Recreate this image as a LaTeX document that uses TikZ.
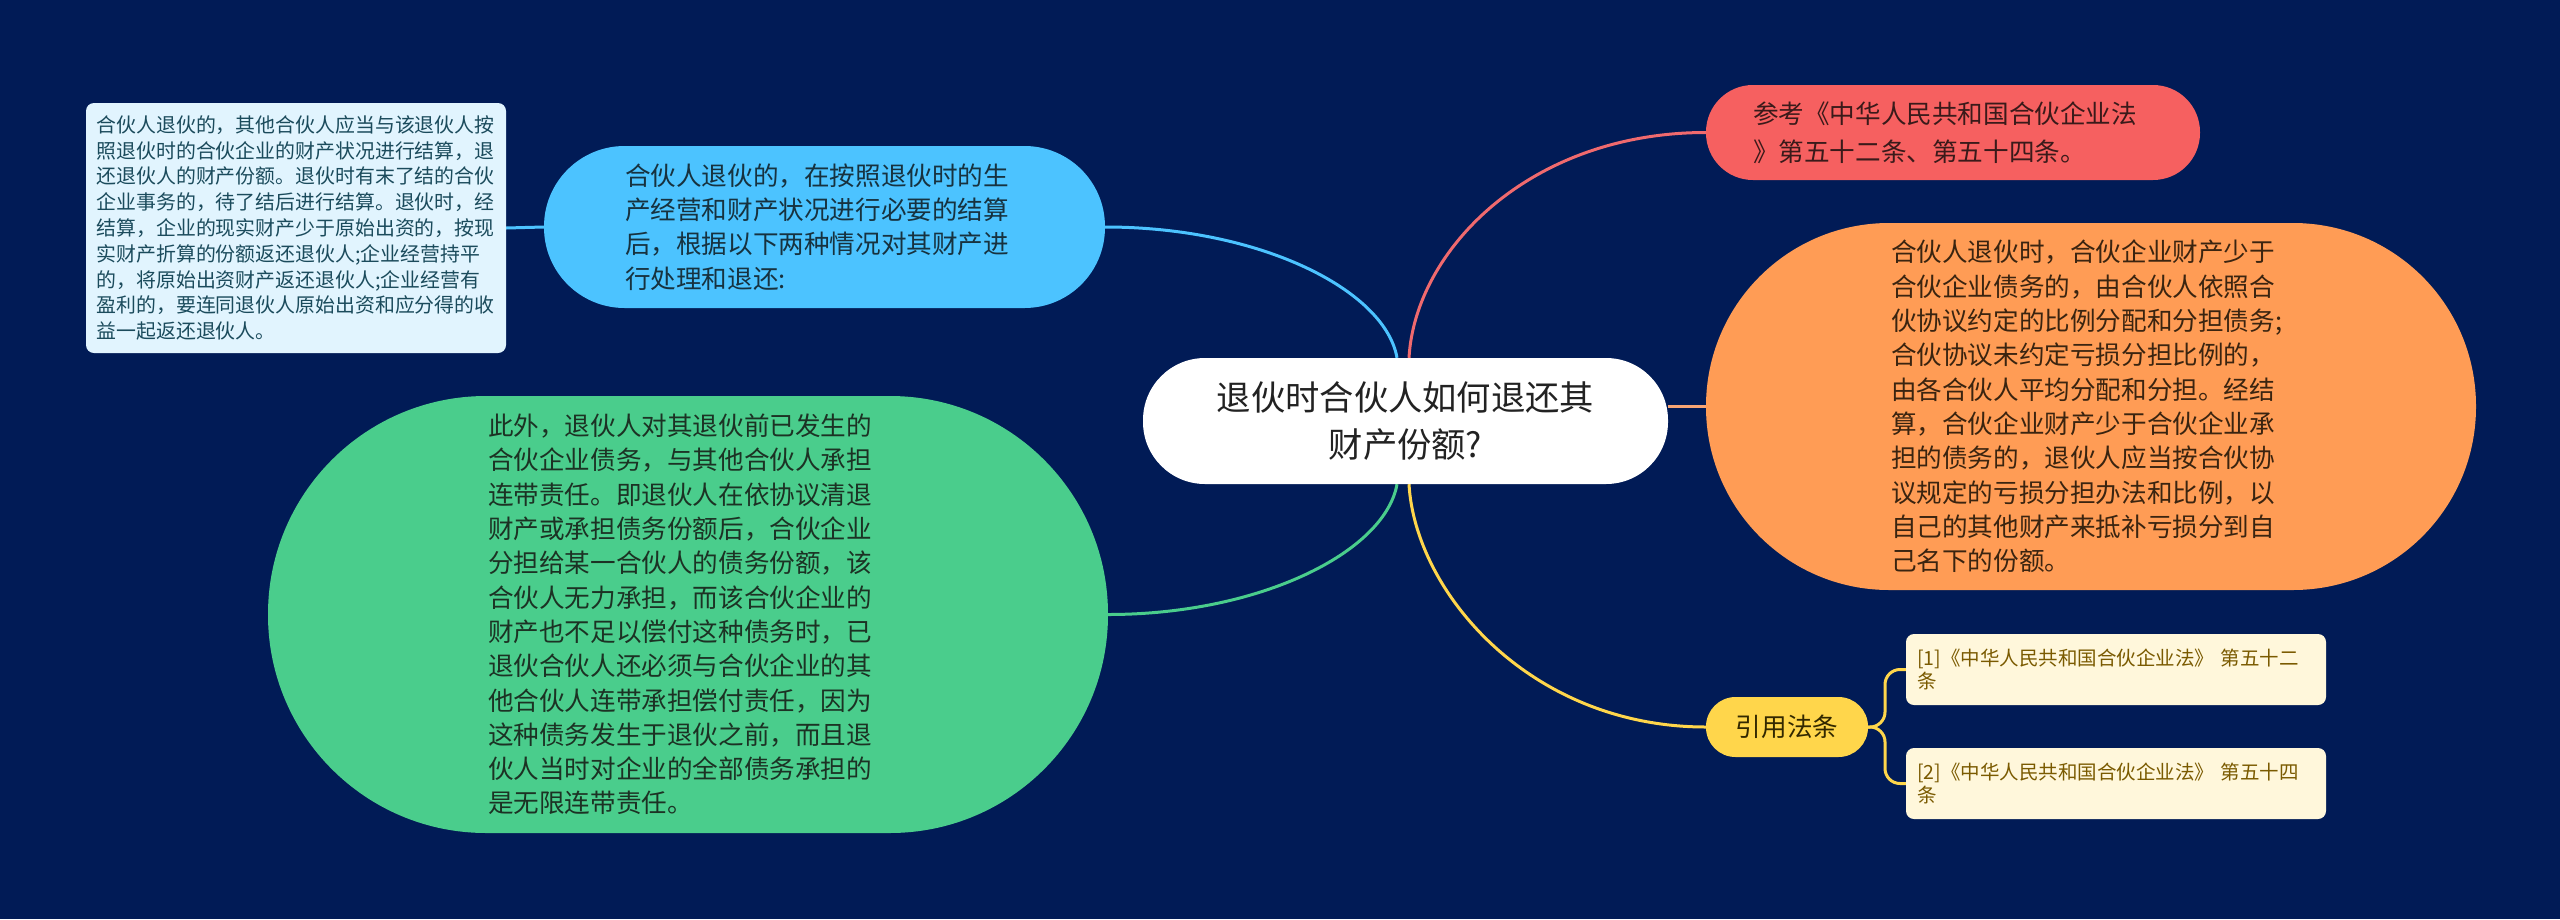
\documentclass[tikz,border=0pt]{standalone}
\usepackage{fontspec}
\setmainfont{Noto Sans CJK SC}
\pgfdeclarelayer{bgl}
\pgfdeclarelayer{edgel}
\pgfsetlayers{bgl,edgel,main}
\definecolor{navy}{RGB}{1,27,86}
\definecolor{bluefill}{RGB}{76,195,255}
\definecolor{leaffill}{RGB}{225,244,254}
\definecolor{leaftext}{RGB}{27,75,92}
\definecolor{greenfill}{RGB}{74,205,140}
\definecolor{redfill}{RGB}{246,96,96}
\definecolor{redline}{RGB}{240,106,110}
\definecolor{orangefill}{RGB}{255,156,85}
\definecolor{orangeline}{RGB}{247,165,116}
\definecolor{yellowfill}{RGB}{255,214,75}
\definecolor{citefill}{RGB}{255,247,219}
\definecolor{citetext}{RGB}{122,90,0}
\definecolor{darktext}{RGB}{34,34,34}
\definecolor{bluetext}{RGB}{23,50,63}
\definecolor{greentext}{RGB}{28,50,36}
\definecolor{redtext}{RGB}{58,26,26}
\definecolor{orangetext}{RGB}{58,36,16}
\definecolor{yellowtext}{RGB}{50,40,0}
\begin{document}
\begin{tikzpicture}[x=1pt,y=-1pt,
  base/.style={rectangle, inner sep=0pt, align=left},
  bodyfont/.style={font=\fontsize{25.6}{34.3}\selectfont},
  conn/.style={line width=3pt},
  mainbox/.style={base, align=center, fill=white, text=darktext,
    minimum width=525, minimum height=126, rounded corners=62,
    font=\fontsize{34.3}{47}\selectfont},
  bluebox/.style={base, bodyfont, fill=bluefill, text=bluetext, text width=399,
    minimum width=561, minimum height=162, rounded corners=80.5},
  leafbox/.style={base, fill=leaffill, text=leaftext, text width=399,
    minimum width=420, minimum height=250, rounded corners=8,
    font=\fontsize{19.9}{25.8}\selectfont},
  greenbox/.style={base, bodyfont, fill=greenfill, text=greentext, text width=400,
    minimum width=840, minimum height=437, rounded corners=218},
  redbox/.style={base, fill=redfill, text=redtext, text width=400,
    minimum width=494, minimum height=95, rounded corners=47,
    font=\fontsize{25.6}{38}\selectfont},
  orangebox/.style={base, bodyfont, fill=orangefill, text=orangetext, text width=400,
    minimum width=770, minimum height=367, rounded corners=183},
  yellowbox/.style={base, bodyfont, fill=yellowfill, text=yellowtext,
    minimum width=162, minimum height=60, rounded corners=29.5},
  citebox/.style={base, fill=citefill, text=citetext, text width=398, inner xsep=11,
    minimum width=420, minimum height=71, rounded corners=8,
    font=\fontsize{19.5}{23}\selectfont}
]
\useasboundingbox (0,0) rectangle (2560,919);
\begin{pgfonlayer}{bgl}
\fill[navy] (0,0) rectangle (2560,919);
\end{pgfonlayer}

\node[mainbox] (c) at (1405.5,421) {退伙时合伙人如何退还其\\财产份额?};

\node[bluebox] (b) at (824.5,227) {合伙人退伙的，在按照退伙时的生\\产经营和财产状况进行必要的结算\\后，根据以下两种情况对其财产进\\行处理和退还:};

\node[leafbox] (leaf) at (296,228) {合伙人退伙的，其他合伙人应当与该退伙人按\\照退伙时的合伙企业的财产状况进行结算，退\\还退伙人的财产份额。退伙时有末了结的合伙\\企业事务的，待了结后进行结算。退伙时，经\\结算，企业的现实财产少于原始出资的，按现\\实财产折算的份额返还退伙人;企业经营持平\\的，将原始出资财产返还退伙人;企业经营有\\盈利的，要连同退伙人原始出资和应分得的收\\益一起返还退伙人。};

\node[greenbox] (g) at (688,614.5) {此外，退伙人对其退伙前已发生的\\合伙企业债务，与其他合伙人承担\\连带责任。即退伙人在依协议清退\\财产或承担债务份额后，合伙企业\\分担给某一合伙人的债务份额，该\\合伙人无力承担，而该合伙企业的\\财产也不足以偿付这种债务时，已\\退伙合伙人还必须与合伙企业的其\\他合伙人连带承担偿付责任，因为\\这种债务发生于退伙之前，而且退\\伙人当时对企业的全部债务承担的\\是无限连带责任。};

\node[redbox] (r) at (1953,132.5) {参考《中华人民共和国合伙企业法\\》第五十二条、第五十四条。};

\node[orangebox] (o) at (2091,406.5) {合伙人退伙时，合伙企业财产少于\\合伙企业债务的，由合伙人依照合\\伙协议约定的比例分配和分担债务;\\合伙协议未约定亏损分担比例的，\\由各合伙人平均分配和分担。经结\\算，合伙企业财产少于合伙企业承\\担的债务的，退伙人应当按合伙协\\议规定的亏损分担办法和比例，以\\自己的其他财产来抵补亏损分到自\\己名下的份额。};

\node[yellowbox] (yl) at (1787,727) {引用法条};

\node[citebox] (ca) at (2116,669.5) {[1]《中华人民共和国合伙企业法》 第五十二\\条};
\node[citebox] (cb) at (2116,783.5) {[2]《中华人民共和国合伙企业法》 第五十四\\条};

\begin{pgfonlayer}{edgel}
\draw[conn, bluefill] (b.east) .. controls (1260,227) and (1385,290) .. ([xshift=-8.5pt]c.north);
\draw[conn, redline] ([xshift=3.5pt]c.north) .. controls (1415,250) and (1530,132.5) .. (r.west);
\draw[conn, greenfill] (g.east) .. controls (1260,614.5) and (1385,552) .. ([xshift=-8.5pt]c.south);
\draw[conn, yellowfill] ([xshift=3.5pt]c.south) .. controls (1415,592) and (1530,727) .. (yl.west);
\draw[conn, orangeline] (c.east |- o.west) -- (o.west);
\draw[conn, bluefill] (b.west) -- (leaf.east);
\draw[conn, yellowfill, rounded corners=15] (yl.east) -- (1885,727) |- (ca.west);
\draw[conn, yellowfill, rounded corners=15] (yl.east) -- (1885,727) |- (cb.west);
\end{pgfonlayer}
\end{tikzpicture}
\end{document}
